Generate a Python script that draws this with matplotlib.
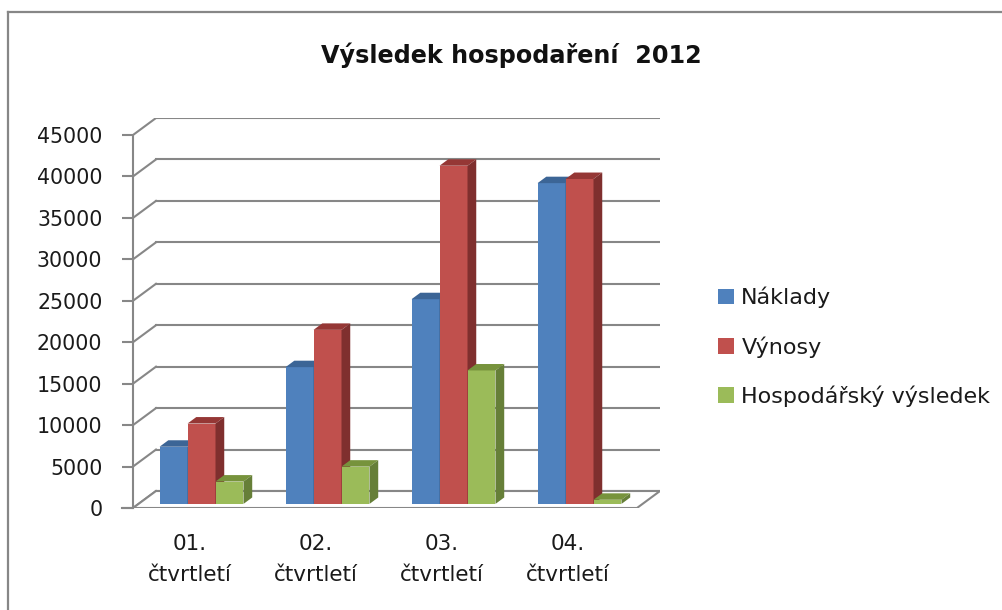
import matplotlib.pyplot as plt
from matplotlib.patches import Polygon
from matplotlib.lines import Line2D

# data
ctvrtleti = ['01.\nčtvrtletí', '02.\nčtvrtletí', '03.\nčtvrtletí', '04.\nčtvrtletí']
naklady = [6900, 16500, 24700, 38700]
vynosy = [9700, 21000, 40800, 39200]
hosp_vysledek = [2700, 4500, 16100, 500]
serie = ['Náklady', 'Výnosy', 'Hospodářský výsledek']
osa_y = [0, 5000, 10000, 15000, 20000, 25000, 30000, 35000, 40000, 45000]

# front, top, side colours per series
barvy = [('#4F81BD', '#3C6596', '#385D8A'),
         ('#C0504D', '#953735', '#7F2F2E'),
         ('#9BBB59', '#77933C', '#667F38')]

plt.rcParams['font.family'] = ['DejaVu Sans']
GRID = '#878787'
TEXT = '#1a1a1a'

fig = plt.figure(figsize=(10.03, 6.10), dpi=100)
ax = fig.add_axes([133 / 1003, 102 / 610, 527 / 1003, 390 / 610])

n = len(ctvrtleti)
DX = 0.1825      # depth offset in category units
DY = 2050        # depth offset in value units
f0, f1 = 0.24, 0.62   # bar front / back depth fraction
sirka = 0.222

ax.set_xlim(0, n + DX)
ax.set_ylim(0, osa_y[-1] + DY)

# back wall gridlines and left wall diagonals
for v in osa_y:
    ax.plot([DX, n + DX], [v + DY, v + DY], color=GRID, lw=1.5, zorder=1)
    ax.plot([0, DX], [v, v + DY], color=GRID, lw=1.5, zorder=1)

# floor
ax.add_patch(Polygon([(0, 0), (n, 0), (n + DX, DY), (DX, DY)], closed=True,
                     facecolor='white', edgecolor=GRID, lw=1.5, zorder=2))

# bars
data = [naklady, vynosy, hosp_vysledek]
for i in range(n):
    for s in range(3):
        val = data[s][i]
        x0 = i + 0.5 - 1.5 * sirka + s * sirka + f0 * DX
        y0 = f0 * DY
        ddx = (f1 - f0) * DX
        ddy = (f1 - f0) * DY
        front, top, side = barvy[s]
        ax.add_patch(Polygon([(x0, y0), (x0 + sirka, y0), (x0 + sirka, y0 + val), (x0, y0 + val)],
                             closed=True, facecolor=front, edgecolor='none', zorder=3))
        ax.add_patch(Polygon([(x0, y0 + val), (x0 + sirka, y0 + val),
                              (x0 + sirka + ddx, y0 + val + ddy), (x0 + ddx, y0 + val + ddy)],
                             closed=True, facecolor=top, edgecolor='none', zorder=3))
        ax.add_patch(Polygon([(x0 + sirka, y0), (x0 + sirka + ddx, y0 + ddy),
                              (x0 + sirka + ddx, y0 + val + ddy), (x0 + sirka, y0 + val)],
                             closed=True, facecolor=side, edgecolor='none', zorder=3))

# axes
for sp in ['top', 'right', 'bottom']:
    ax.spines[sp].set_visible(False)
ax.spines['left'].set_color(GRID)
ax.spines['left'].set_linewidth(1.5)
ax.spines['left'].set_bounds(0, osa_y[-1])
ax.set_yticks(osa_y)
ax.set_yticklabels([str(v) for v in osa_y])
ax.tick_params(axis='y', direction='out', length=8, width=1.5, color=GRID,
               labelsize=14.8, pad=14, labelcolor=TEXT)
ax.set_xticks([i + 0.45 for i in range(n)])
ax.set_xticklabels(ctvrtleti, linespacing=1.65)
ax.tick_params(axis='x', length=0, labelsize=15.5, pad=19, labelcolor=TEXT)
ax.plot([-0.09, 0], [0, 0], color=GRID, lw=1.5, clip_on=False, zorder=2)

fig.text(511 / 1003, 1 - 55 / 610, 'Výsledek hospodaření  2012', ha='center', va='center',
         fontsize=17.2, fontweight='bold', color='#111111')

handles = [plt.Rectangle((0, 0), 1, 1, facecolor=b[0]) for b in barvy]
fig.legend(handles, serie, loc='center left', bbox_to_anchor=(698 / 1003, 1 - 347 / 610),
           frameon=False, fontsize=16, handlelength=0.7, handleheight=0.7,
           handletextpad=0.35, labelspacing=1.25, labelcolor=TEXT)

# chart border
fig.add_artist(Line2D([8 / 1003, 1.01], [1 - 12 / 610, 1 - 12 / 610], transform=fig.transFigure,
                      color=GRID, lw=1.6))
fig.add_artist(Line2D([8 / 1003, 8 / 1003], [1 - 12 / 610, -0.01], transform=fig.transFigure,
                      color=GRID, lw=1.6))

fig.savefig('out.png', dpi=100)
